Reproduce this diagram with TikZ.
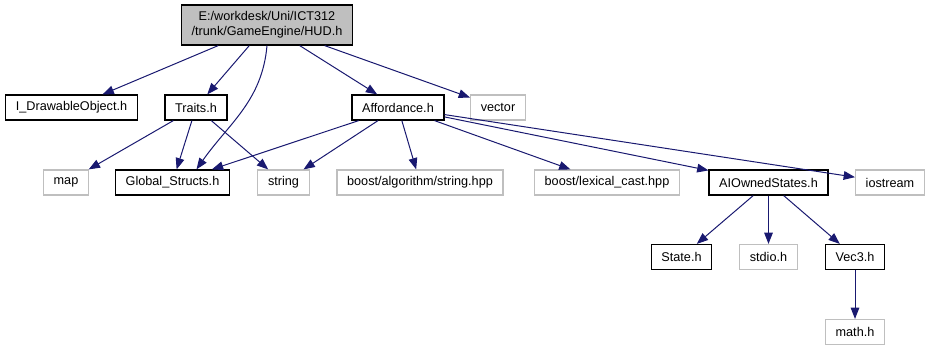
\documentclass[tikz,border=0pt]{standalone}
\usepackage{fontspec}
\setmainfont{Liberation Sans}
\usetikzlibrary{arrows.meta}
\definecolor{edgeblue}{HTML}{191970}
\definecolor{extgray}{HTML}{BFBFBF}
\begin{document}
\begin{tikzpicture}[x=0.75pt,y=-0.75pt,
  every node/.style={font=\fontsize{9.5}{11.5}\selectfont, inner xsep=7.6pt, inner ysep=0pt, minimum height=18.75pt},
  hdr/.style={draw=black, line width=0.9pt},
  ext/.style={draw=extgray, line width=0.9pt},
  dep/.style={-{Triangle[length=8.5pt,width=6.5pt]}, edgeblue, line width=0.75pt}]
\useasboundingbox (0,0) rectangle (931,351);
% top file
\node[hdr, fill=extgray, align=center, minimum height=30pt] (hud) at (267,25) {E:/workdesk/Uni/ICT312\\/trunk/GameEngine/HUD.h};
% first row
\node[hdr] (idraw) at (71.5,107.5) {I\_DrawableObject.h};
\node[hdr] (traits) at (196,107.5) {Traits.h};
\node[hdr] (afford) at (398,107.5) {Affordance.h};
\node[ext] (vector) at (498,107.5) {vector};
% second row
\node[ext] (map) at (66,182.5) {map};
\node[hdr] (glob) at (172.5,182.5) {Global\_Structs.h};
\node[ext] (string) at (283.5,182.5) {string};
\node[ext] (algo) at (420,182.5) {boost/algorithm/string.hpp};
\node[ext] (lexcast) at (607,182.5) {boost/lexical\_cast.hpp};
\node[hdr] (aistates) at (768.5,182.5) {AIOwnedStates.h};
\node[ext] (iostream) at (890,182.5) {iostream};
% third and fourth row
\node[hdr] (state) at (681.5,257) {State.h};
\node[ext] (stdio) at (768.5,257) {stdio.h};
\node[hdr] (vec) at (855,257) {Vec3.h};
\node[ext] (math) at (855,332) {math.h};
% includes
\draw[dep] (hud) -- (idraw);
\draw[dep] (hud) -- (traits);
\draw[dep] (hud.south) to[out=-95,in=55] ([xshift=18pt]glob.north);
\draw[dep] (hud) -- (afford);
\draw[dep] (hud) -- (vector);
\draw[dep] (traits) -- (map);
\draw[dep] (traits) -- (glob);
\draw[dep] (traits) -- (string);
\draw[dep] (afford) -- (glob);
\draw[dep] (afford) -- (string);
\draw[dep] (afford) -- (algo);
\draw[dep] (afford) -- (lexcast);
\draw[dep] (afford) -- (aistates);
\draw[dep] (afford) -- (iostream);
\draw[dep] (aistates) -- (state);
\draw[dep] (aistates) -- (stdio);
\draw[dep] (aistates) -- (vec);
\draw[dep] (vec) -- (math);
\end{tikzpicture}
\end{document}
